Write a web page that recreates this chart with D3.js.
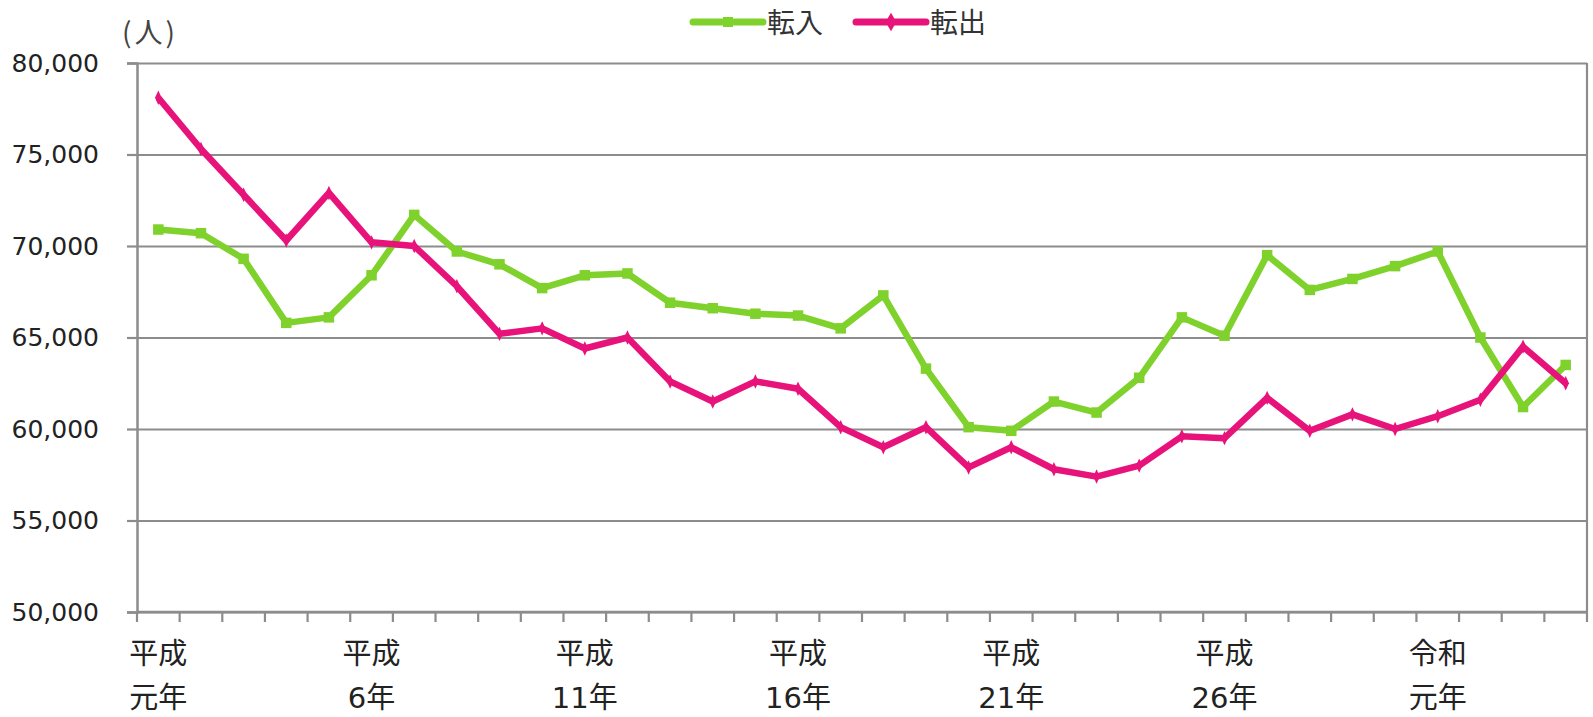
<!DOCTYPE html>
<html>
<head>
<meta charset="utf-8">
<script src="https://cdn.jsdelivr.net/npm/d3@7/dist/d3.min.js"></script>
<style>
  html, body { margin: 0; padding: 0; background: #fff; }
  svg { display: block; }
</style>
</head>
<body>
<svg id="chart" width="1593" height="717"></svg>
<script>
// ---- data ----
const categories = [
  "平成元年","平成2年","平成3年","平成4年","平成5年","平成6年","平成7年","平成8年","平成9年","平成10年",
  "平成11年","平成12年","平成13年","平成14年","平成15年","平成16年","平成17年","平成18年","平成19年","平成20年",
  "平成21年","平成22年","平成23年","平成24年","平成25年","平成26年","平成27年","平成28年","平成29年","平成30年",
  "令和元年","令和2年","令和3年","令和4年"
];
const tenNyu = [70900, 70700, 69300, 65800, 66100, 68400, 71700, 69700, 69000, 67700,
                68400, 68500, 66900, 66600, 66300, 66200, 65500, 67300, 63300, 60100,
                59900, 61500, 60900, 62800, 66100, 65100, 69500, 67600, 68200, 68900,
                69700, 65000, 61200, 63500];
const tenShutsu = [78100, 75300, 72800, 70300, 72900, 70200, 70000, 67800, 65200, 65500,
                   64400, 65000, 62600, 61500, 62600, 62200, 60100, 59000, 60100, 57900,
                   59000, 57800, 57400, 58000, 59600, 59500, 61700, 59900, 60800, 60000,
                   60700, 61600, 64500, 62500];
const seriesNames = ["転入", "転出"];
const yTicks = [50000, 55000, 60000, 65000, 70000, 75000, 80000];
// tick labels shown on the category axis (index -> two lines)
const xLabelIndex = [0, 5, 10, 15, 20, 25, 30];
const xLabelLines = [["平成","元年"],["平成","6年"],["平成","11年"],["平成","16年"],["平成","21年"],["平成","26年"],["令和","元年"]];
const unitLabel = "(人)";

// ---- layout ----
const plotL = 137, plotR = 1587, plotT = 63, plotB = 612;
const green = "#7fd12c", pink = "#e8137a", gridColor = "#8c8c8c";
const latin = "'DejaVu Sans', 'Noto Sans CJK JP', sans-serif";
const cjk = "'Noto Sans CJK JP', 'Noto Sans', sans-serif";

const svg = d3.select("#chart");
const x = d3.scaleBand().domain(categories).range([plotL, plotR]).padding(0);
const y = d3.scaleLinear().domain([50000, 80000]).range([plotB, plotT]);
const cx = c => x(c) + x.bandwidth() / 2;

// gridlines
svg.append("g")
  .attr("transform", `translate(${plotL},0)`)
  .call(d3.axisLeft(y).tickValues(yTicks).tickSize(-(plotR - plotL)).tickFormat(""))
  .call(g => g.select(".domain").remove())
  .call(g => g.selectAll("line").attr("stroke", gridColor).attr("stroke-width", 2.2));

// y axis with outward ticks
const yAxis = svg.append("g")
  .attr("transform", `translate(${plotL},0)`)
  .call(d3.axisLeft(y).tickValues(yTicks).tickSize(10).tickPadding(28).tickFormat(d3.format(",")));
yAxis.select(".domain").attr("stroke", gridColor).attr("stroke-width", 2.5);
yAxis.selectAll(".tick line").attr("stroke", gridColor).attr("stroke-width", 2.2);
yAxis.selectAll(".tick text")
  .attr("font-family", latin).attr("font-size", 25).attr("fill", "#222");

// right border
svg.append("line")
  .attr("x1", plotR).attr("x2", plotR).attr("y1", y(80000)).attr("y2", y(50000))
  .attr("stroke", gridColor).attr("stroke-width", 2.2);

// x axis baseline + boundary ticks
const boundaries = categories.map(c => x(c)).concat([x(categories[categories.length - 1]) + x.bandwidth()]);
svg.append("line")
  .attr("x1", plotL).attr("x2", plotR).attr("y1", plotB).attr("y2", plotB)
  .attr("stroke", gridColor).attr("stroke-width", 2.5);
svg.append("g").selectAll("line").data(boundaries).join("line")
  .attr("x1", d => d).attr("x2", d => d).attr("y1", plotB).attr("y2", plotB + 10)
  .attr("stroke", gridColor).attr("stroke-width", 2.2);

// x labels
const xl = svg.append("g").selectAll("text").data(xLabelIndex).join("text")
  .attr("text-anchor", "middle")
  .attr("font-family", latin).attr("font-size", 29).attr("fill", "#222");
xl.each(function(d, i) {
  const t = d3.select(this);
  xLabelLines[i].forEach((line, k) => {
    t.append("tspan").attr("x", cx(categories[d])).attr("y", 664 + k * 44).text(line);
  });
});

// unit label
svg.append("text").attr("x", 122).attr("y", 43)
  .attr("font-family", cjk).attr("font-size", 28).attr("fill", "#444")
  .attr("letter-spacing", 3).text(unitLabel);

// lines
const lineGen = d3.line().x((d, i) => cx(categories[i])).y(d => y(d));
function drawSeries(values, color, shape) {
  svg.append("path").datum(values)
    .attr("fill", "none").attr("stroke", color).attr("stroke-width", 6.5)
    .attr("stroke-linejoin", "round").attr("d", lineGen);
  const sym = d3.symbol().type(shape).size(shape === d3.symbolSquare ? 110 : 60);
  svg.append("g").selectAll("path").data(values).join("path")
    .attr("transform", (d, i) => `translate(${cx(categories[i])},${y(d)})${shape === d3.symbolDiamond ? " scale(0.8,1)" : ""}`)
    .attr("d", sym).attr("fill", color);
}
drawSeries(tenNyu, green, d3.symbolSquare);
drawSeries(tenShutsu, pink, d3.symbolDiamond);

// legend
const legend = [
  {name: seriesNames[0], color: green, shape: d3.symbolSquare, x0: 693},
  {name: seriesNames[1], color: pink, shape: d3.symbolDiamond, x0: 856}
];
const lg = svg.append("g");
legend.forEach(L => {
  lg.append("line").attr("x1", L.x0).attr("x2", L.x0 + 70).attr("y1", 22).attr("y2", 22)
    .attr("stroke", L.color).attr("stroke-width", 7).attr("stroke-linecap", "round");
  lg.append("path").attr("transform", `translate(${L.x0 + 35},22)`)
    .attr("d", d3.symbol().type(L.shape).size(100)()).attr("fill", L.color);
  lg.append("text").attr("x", L.x0 + 74).attr("y", 33)
    .attr("font-family", cjk).attr("font-size", 28).attr("fill", "#333").text(L.name);
});
</script>
</body>
</html>
